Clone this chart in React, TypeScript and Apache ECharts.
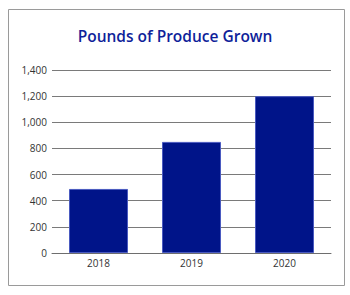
import React, { useEffect, useRef } from "react";
import * as echarts from "echarts";

const titleText = "Pounds of Produce Grown";
const categories = ["2018", "2019", "2020"];
const values = [490, 850, 1200];
const yTicks = { min: 0, max: 1400, interval: 200 };

export default function App() {
  const ref = useRef<HTMLDivElement>(null);
  useEffect(() => {
    if (!ref.current) return;
    const chart = echarts.init(ref.current, null, { renderer: "svg" });
    chart.setOption({
      animation: false,
      backgroundColor: "#ffffff",
      title: {
        text: titleText,
        left: "center",
        top: 23,
        textStyle: {
          fontFamily: "Open Sans",
          fontWeight: 600,
          fontSize: 15.5,
          color: "#0f1f9a",
        },
      },
      graphic: [
        {
          type: "rect",
          shape: { x: 8.5, y: 9.5, width: 336, height: 276 },
          style: { fill: "none", stroke: "#9a9a9a", lineWidth: 1 },
          silent: true,
        },
      ],
      grid: { left: 52, right: 19, top: 70, bottom: 42, containLabel: false },
      xAxis: {
        type: "category",
        data: categories,
        axisLine: { show: true, lineStyle: { color: "#6e6e6e", width: 1 } },
        axisTick: { show: false },
        axisLabel: {
          margin: 5,
          fontFamily: "Open Sans",
          fontSize: 10,
          color: "#333333",
        },
      },
      yAxis: {
        type: "value",
        min: yTicks.min,
        max: yTicks.max,
        interval: yTicks.interval,
        axisLine: { show: false },
        axisTick: { show: false },
        splitLine: { show: true, lineStyle: { color: "#7a7a7a", width: 1 } },
        axisLabel: {
          margin: 5,
          fontFamily: "Open Sans",
          fontSize: 10,
          color: "#333333",
          formatter: (v: number) => v.toLocaleString("en-US"),
        },
      },
      series: [
        {
          type: "bar",
          data: values,
          barWidth: 59,
          itemStyle: {
            color: "#001489",
            borderColor: "#4a5ac0",
            borderWidth: 1,
          },
        },
      ],
    });
    return () => chart.dispose();
  }, []);
  return (
    <div
      ref={ref}
      style={{ position: "fixed", left: 0, top: 0, width: 350, height: 295 }}
    />
  );
}
